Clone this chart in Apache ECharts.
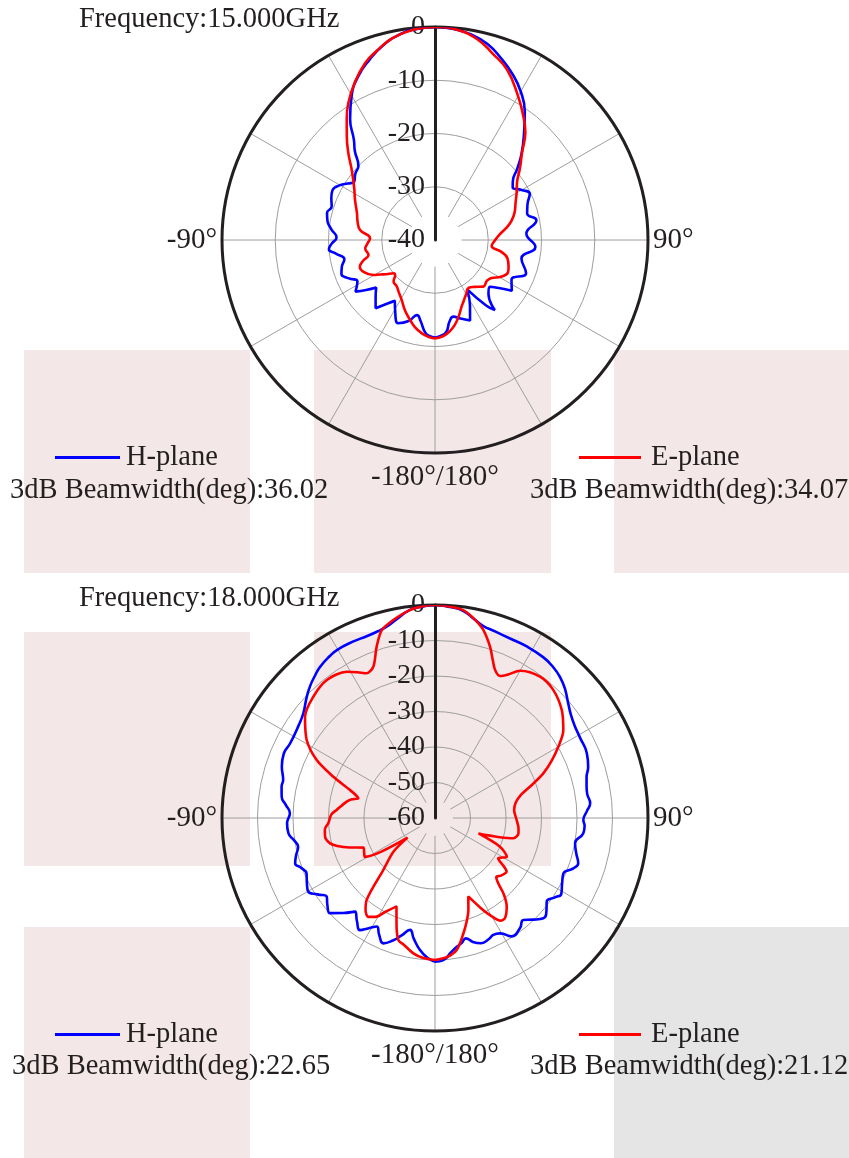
<!DOCTYPE html>
<html><head><meta charset="utf-8">
<style>html,body{margin:0;padding:0;background:#fff}#c{width:849px;height:1158px}</style>
<script src="https://cdn.jsdelivr.net/npm/echarts@6/dist/echarts.min.js"></script>
</head><body><div id="c"></div>
<script>
// ---- data (angle in degrees, -180..180; value in dB) ----
const h15Angles = [-180,-177,-174,-170,-166.5,-162,-156,-150,-146.5,-143,-139,-134,-129,-126,-123,-118,-114,-110,-106,-102,-98,-95,-92,-88.5,-84,-80,-76,-72,-68,-64,-60,-57,-54.5,-50,-46,-42,-39,-35,-30,-25,-20,-15,-10,-5,0,5,10,15,20,25,30,35,40,45,49,53,56,60,64,69,74,79,86,94,102,110,117.5,123.5,127,130.5,135,139.5,142,147,152,156.5,162,166.5,170,173,177,180];
const h15Values = [-21.7,-21.9,-22.5,-24.5,-25.5,-24.0,-22.9,-25.0,-26.3,-25.0,-23.0,-24.5,-25.8,-24.0,-22.2,-23.5,-22.3,-21.3,-21.8,-22.6,-21.3,-20.0,-20.6,-21.5,-20.4,-19.5,-19.1,-19.6,-19.0,-18.6,-19.4,-20.5,-21.3,-20.5,-20.0,-17.5,-15.8,-12.2,-8.7,-6.0,-4.0,-2.2,-0.9,-0.2,0,-0.2,-0.8,-1.9,-3.7,-5.6,-7.8,-10.6,-14.0,-17.0,-19.5,-21.7,-22.4,-21.2,-20.2,-21.4,-22.0,-20.6,-22.8,-21.1,-23.4,-21.8,-23.8,-22.7,-25.0,-26.5,-25.8,-22.7,-24.4,-29.0,-26.0,-23.5,-24.5,-25.2,-24.4,-22.6,-21.9,-21.7];

const e15Angles = [-180,-176,-172,-167,-162.6,-157,-151,-145,-140.6,-135,-131.5,-128.6,-125,-122,-119.6,-114,-109.6,-106,-102.7,-97,-93,-88.5,-82.4,-76,-71,-63.4,-57,-50,-45,-40.5,-36,-32.4,-27,-21.6,-17,-12,-6,0,6,12,17,23,30,35,40,45,50,55,60,65,71,76,80,85,90,96,100,104,110,114,119,124,128,134,140,145,150,155,158,163,167,171,175,180];
const e15Values = [-21.5,-21.8,-22.3,-23.2,-24.3,-25.6,-27.1,-28.1,-28.7,-29.0,-30.0,-30.0,-28.8,-27.8,-26.7,-25.3,-25.0,-26.0,-27.2,-26.8,-27.3,-27.8,-25.8,-25.0,-24.5,-23.2,-21.9,-19.6,-17.0,-14.5,-11.8,-9.6,-6.8,-4.3,-2.8,-1.3,-0.3,0,-0.3,-1.5,-3.3,-5.3,-8.8,-11.2,-13.6,-16.9,-19.2,-21.2,-22.3,-23.3,-24.2,-25.2,-26.3,-27.8,-28.7,-29.3,-27.4,-26.0,-25.3,-25.0,-25.8,-27.2,-27.6,-27.4,-28.5,-29.0,-28.3,-27.3,-26.6,-24.9,-23.6,-22.6,-21.9,-21.5];

const h18Angles = [-180,-177,-173.5,-170,-167.4,-164,-161,-157.6,-154.5,-151.8,-149,-146.2,-143,-139.5,-136,-132.2,-129,-126,-123,-120.2,-117,-113.3,-110.5,-107.9,-105,-101.9,-99,-96,-92,-88.1,-85,-82.1,-78.5,-75.9,-71.5,-66.9,-62.7,-56,-51.5,-47,-43.6,-40,-37.2,-33,-30.3,-25,-20.6,-17,-14.2,-11,-7,-4,0,4,7.7,11.3,14,18,22.7,28,33.9,38,41.5,45,49.3,53,56.9,61,66.9,71.5,75,78.3,81,84.6,87.5,90.8,93,95.9,100.2,104,107.5,110,113.3,117,121,123.5,126.8,129.5,132.8,136,139.1,142.4,147.1,150.6,153.5,156,159.8,163,165.6,168,170.4,173,176.6,180];
const h18Values = [-19.5,-20.5,-22.6,-25.5,-27.7,-25.5,-23.5,-21.8,-23.5,-25.3,-23.8,-22.0,-23.5,-25.3,-22.8,-20.1,-21.0,-22.3,-20.5,-18.7,-19.5,-20.6,-19.8,-18.6,-19.5,-20.6,-19.8,-18.5,-18.3,-19.1,-17.8,-16.4,-15.9,-15.9,-14.5,-13.7,-14.1,-13.6,-12.6,-10.5,-8.9,-7.5,-6.5,-5.6,-5.2,-5.2,-5.3,-5.0,-4.4,-3.0,-1.0,-0.4,0,-0.4,-1.1,-3.0,-4.2,-4.8,-5.2,-5.2,-5.4,-6.0,-6.9,-8.3,-10.5,-12.0,-12.9,-13.3,-13.5,-14.5,-15.8,-16.4,-16.6,-16.1,-17.2,-18.2,-17.8,-18.0,-19.9,-19.0,-17.7,-18.5,-20.6,-19.8,-18.5,-19.5,-20.7,-19.3,-18.4,-20.2,-22.0,-20.8,-20.3,-22.7,-23.2,-22.7,-22.4,-23.5,-25.0,-24.0,-23.2,-22.0,-19.9,-19.5];

const e18Angles = [-180,-175,-170.9,-166,-163.3,-160,-156.5,-152,-149,-146,-143,-140.2,-135.2,-129,-125.6,-122,-119,-116,-112.5,-109,-106,-103.6,-99.6,-96,-92.8,-88,-85.3,-79.5,-77.5,-75.6,-71.8,-67.9,-63.9,-58.7,-52.1,-45.1,-38.1,-31.1,-28,-25.3,-22.2,-18.8,-15.8,-11.9,-6.9,-3,0,3,7.7,10.8,14.4,17.8,20,22.1,24.6,27,30,36.6,42.7,49.6,55.6,60,64,67.6,71,75,79,84.2,91.4,97,100.4,104.5,109.5,113.8,118.4,122.5,126.8,131,134,138,141,145,147.5,150,153,157,160,163,166.2,170.7,175,180];
const e18Values = [-20.0,-20.5,-21.4,-23.3,-24.1,-28.3,-32.8,-30.0,-27.5,-26.4,-27.5,-29.9,-39.3,-45.0,-50.5,-42.0,-37.4,-37.8,-38.2,-34.5,-31.4,-29.6,-28.6,-28.8,-29.9,-30.8,-32.2,-34.7,-35.8,-37.7,-34.8,-29.1,-22.9,-17.7,-13.6,-11.6,-10.6,-11.9,-13.5,-14.9,-14.0,-9.0,-5.0,-3.0,-1.0,-0.2,0,-0.2,-0.9,-2.6,-5.3,-9.3,-12.5,-15.0,-16.0,-14.6,-12.1,-10.4,-10.9,-13.1,-16.2,-19.9,-23.5,-27.0,-31.0,-35.0,-36.8,-37.6,-37.0,-36.3,-36.1,-37.2,-47.0,-40.0,-37.0,-38.9,-34.8,-35.3,-36.0,-31.0,-27.9,-25.6,-25.7,-28.0,-31.5,-36.0,-32.5,-29.5,-26.5,-22.3,-20.7,-20.0];

// ---- axes / labels ----
const radiusMin = [-40, -60];
const radiusMax = 0;
const radiusStep = 10;
const spokeAngles = [30,60,90,120,150,180,210,240,270,300,330];
const angleTickValues = [270, 90, 180];
const angleTickLabels = ['-90°', '90°', '-180°/180°'];
const frequencies = ['Frequency:15.000GHz', 'Frequency:18.000GHz'];
const seriesNames = ['H-plane', 'E-plane'];
const beamwidthH = ['3dB Beamwidth(deg):36.02', '3dB Beamwidth(deg):22.65'];
const beamwidthE = ['3dB Beamwidth(deg):34.07', '3dB Beamwidth(deg):21.12'];

// ---- layout ----
const FONT = '"Liberation Serif","Times New Roman",serif';
const FS = 28.5;
const TXT = '#231f20';
const BLUE = '#0000ff', RED = '#ff0000';
const centers = [[435, 240], [435, 818]];
const R = 213;

function pts(angles, values) {
  return angles.map((a, i) => [values[i], (a + 360) % 360]);
}

const polar = centers.map(c => ({ center: c, radius: R }));
const angleAxis = centers.map((c, i) => ({
  polarIndex: i, type: 'value', min: 0, max: 360, interval: 30,
  startAngle: 90, clockwise: true, z: 4,
  axisLine: { lineStyle: { color: TXT, width: 3 } },
  axisTick: { show: false },
  splitLine: { show: false },
  axisLabel: {
    margin: 5, fontSize: 29, fontFamily: FONT, color: TXT,
    formatter: v => {
      const k = angleTickValues.indexOf(v);
      if (k < 0) return '';
      return v === 180 ? '{b|' + angleTickLabels[k] + '}' : angleTickLabels[k];
    },
    rich: { b: { fontSize: 29, fontFamily: FONT, color: TXT, padding: [5, 0, 0, 0] } }
  }
}));
const radiusAxis = centers.map((c, i) => ({
  polarIndex: i, type: 'value', min: radiusMin[i], max: radiusMax, interval: radiusStep, z: 3,
  axisLine: { show: true, lineStyle: { color: TXT, width: 3 } },
  axisTick: { show: false },
  splitLine: { show: true, lineStyle: { color: '#9e9e9e', width: 1 } },
  axisLabel: { margin: 10, fontSize: 28, fontFamily: FONT, color: TXT }
}));

const series = [];
[0, 1].forEach(p => {
  spokeAngles.forEach(a => {
    series.push({
      type: 'line', coordinateSystem: 'polar', polarIndex: p, silent: true,
      symbol: 'none', z: 1, animation: false,
      lineStyle: { color: '#9e9e9e', width: 1 },
      data: [[radiusMin[p] + 5, a], [radiusMax, a]]
    });
  });
});
const curves = [
  [0, seriesNames[0], h15Angles, h15Values, BLUE, 0.5],
  [0, seriesNames[1], e15Angles, e15Values, RED, 0.45],
  [1, seriesNames[0], h18Angles, h18Values, BLUE, 0.5],
  [1, seriesNames[1], e18Angles, e18Values, RED, 0.3]
];
curves.forEach(([p, name, a, v, col, sm]) => {
  series.push({
    type: 'line', name, coordinateSystem: 'polar', polarIndex: p,
    symbol: 'none', smooth: sm, z: 5, animation: false,
    lineStyle: { color: col, width: 2.6 }, itemStyle: { color: col },
    data: pts(a, v)
  });
});

const legendRows = [456, 1033];
const legend = [];
legendRows.forEach(y => {
  legend.push({ data: [seriesNames[0]], left: 55, top: y - 13, padding: 0, icon: 'rect', itemWidth: 65, itemHeight: 3,
    textStyle: { fontSize: FS, fontFamily: FONT, color: TXT, padding: [0, 0, 0, 1] } });
  legend.push({ data: [seriesNames[1]], left: 579, top: y - 13, padding: 0, icon: 'rect', itemWidth: 62, itemHeight: 3,
    textStyle: { fontSize: FS, fontFamily: FONT, color: TXT, padding: [0, 0, 0, 5] } });
});

function txt(x, y, text) {
  return { type: 'text', z: 10, style: { x, y, text, fill: TXT, font: FS + 'px ' + FONT, textVerticalAlign: 'middle', verticalAlign: 'middle' } };
}
const graphic = [
  { type: 'rect', z: -10, shape: { x: 24, y: 350, width: 226, height: 223 }, style: { fill: '#f3e7e7' } },
  { type: 'rect', z: -10, shape: { x: 314, y: 350, width: 237, height: 223 }, style: { fill: '#f3e7e7' } },
  { type: 'rect', z: -10, shape: { x: 614, y: 350, width: 235, height: 223 }, style: { fill: '#f3e7e7' } },
  { type: 'rect', z: -10, shape: { x: 24, y: 632, width: 226, height: 234 }, style: { fill: '#f3e7e7' } },
  { type: 'rect', z: -10, shape: { x: 314, y: 632, width: 237, height: 234 }, style: { fill: '#f3e7e7' } },
  { type: 'rect', z: -10, shape: { x: 24, y: 927, width: 226, height: 231 }, style: { fill: '#f3e7e7' } },
  { type: 'rect', z: -10, shape: { x: 614, y: 927, width: 235, height: 231 }, style: { fill: '#e5e5e5' } },
  txt(79, 20, frequencies[0]),
  txt(79, 599, frequencies[1]),
  txt(10, 491, beamwidthH[0]),
  txt(530, 491, beamwidthE[0]),
  txt(12, 1067, beamwidthH[1]),
  txt(530, 1067, beamwidthE[1])
];

const chart = echarts.init(document.getElementById('c'));
chart.setOption({ animation: false, backgroundColor: '#fff', polar, angleAxis, radiusAxis, series, legend, graphic });
</script></body></html>
